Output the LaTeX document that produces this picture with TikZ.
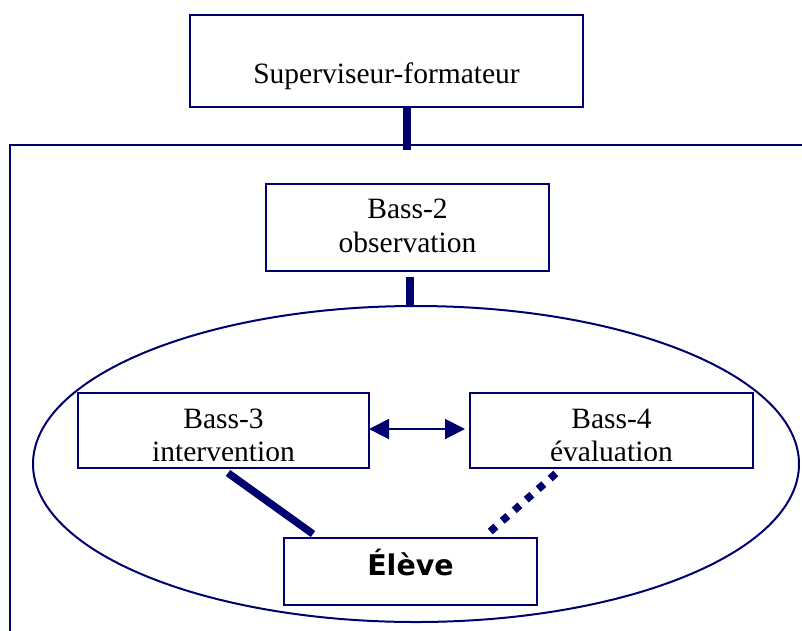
\documentclass[tikz,border=0pt]{standalone}
\usepackage{fontspec}
\setmainfont{Liberation Serif}
\newfontfamily\elevefont{DejaVu Sans Bold}
\usetikzlibrary{shapes.geometric,arrows.meta,calc}
\definecolor{inkblue}{RGB}{0,0,110}

\begin{document}
\begin{tikzpicture}[x=1pt,y=-1pt,
  box/.style={draw=inkblue,line width=2pt,inner sep=0pt,outer sep=0pt},
  lbl/.style={anchor=base,inner sep=0pt,font=\fontsize{29.5pt}{34pt}\selectfont},
  bar/.style={draw=inkblue,line width=7.5pt},
  dotbar/.style={bar,dash pattern=on 7.5pt off 8.5pt},
  link/.style={draw=inkblue,line width=2pt,
    {Triangle[length=20pt,width=20pt]}-{Triangle[length=20pt,width=20pt]}}
]
\useasboundingbox (0,0) rectangle (802,630);

% outer frame, open towards the right and the bottom
\draw[inkblue,line width=2pt] (806,145) -- (10,145) -- (10,636);
\coordinate (frametop) at (407,150);

% boxes
\node[box,minimum width=393pt,minimum height=92pt] (sup) at (386.5,61) {};
\node[box,minimum width=283pt,minimum height=87pt] (b2) at (407.5,227.5) {};
\node[draw=inkblue,line width=2pt,ellipse,inner sep=0pt,outer sep=0pt,
      minimum width=766pt,minimum height=316pt] (ring) at (416,464) {};
\node[box,minimum width=291pt,minimum height=75pt] (b3) at (223.5,430.5) {};
\node[box,minimum width=283pt,minimum height=75pt] (b4) at (611.5,430.5) {};
\node[box,minimum width=253pt,minimum height=67pt] (ev) at (410.5,571.5) {};

% labels
\node[lbl] (supt) at (386.5,83) {Superviseur-formateur};
\node[lbl] (b2a) at (407.5,218) {Bass-2};
\node[lbl] (b2b) at (407.5,252) {observation};
\node[lbl] (b3a) at (223.5,428) {Bass-3};
\node[lbl] (b4a) at (611.5,428) {Bass-4};
\begin{scope}
  \clip (0,0) rectangle (802,460);
  \node[lbl] (b3b) at (223.5,461.5) {intervention};
  \node[lbl] (b4b) at (611.5,461.5) {évaluation};
\end{scope}
\node[anchor=base,inner sep=0pt,font=\elevefont\fontsize{28.5pt}{32pt}\selectfont]
  (evt) at (410.5,575) {Élève};

% connectors
\draw[bar] ($(sup.south west)+(217,0)$) -- (frametop);
\draw[bar] ($(b2.south west)+(144,6)$) coordinate (b2foot) -- (b2foot |- ring.north);
\draw[link] ([yshift=1.5pt]b3.east) -- ([xshift=-5pt,yshift=1.5pt]b4.west);
\draw[bar] ($(b3.south west)+(150,5)$) -- ($(ev.north west)+(29,-4)$);
\draw[dotbar] ($(b4.south west)+(85.8,5.5)$) -- ($(ev.north west)+(206.2,-6.5)$);
\end{tikzpicture}
\end{document}
